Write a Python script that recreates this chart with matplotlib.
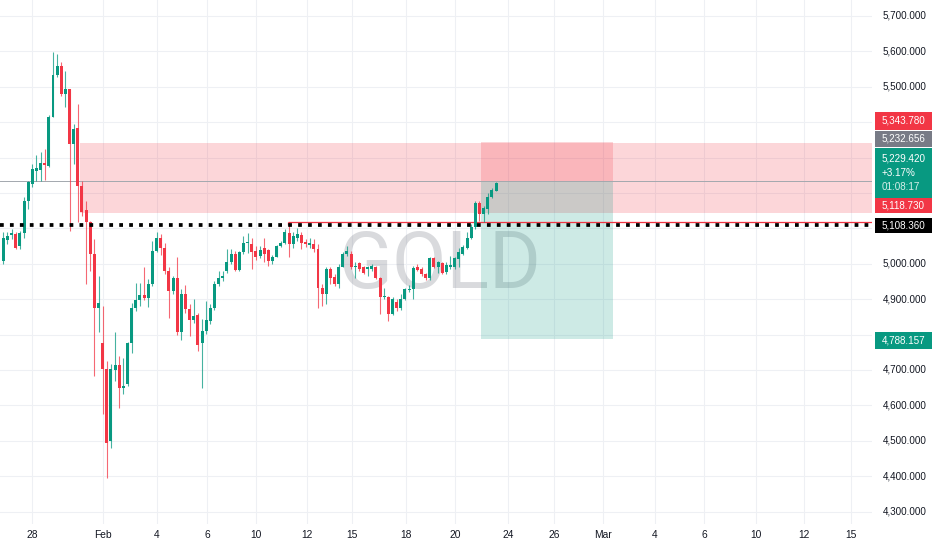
import matplotlib
matplotlib.use("Agg")
import matplotlib.pyplot as plt
from matplotlib.patches import Rectangle
from matplotlib.transforms import blended_transform_factory
import numpy as np

plt.rcParams['font.family'] = ['Liberation Sans', 'DejaVu Sans']

# ---------------- data (4h candles, XAUUSD) ----------------
opens = [5008, 5068, 5082, 5084, 5050, 5086, 5178, 5225, 5263, 5265,
         5284, 5277, 5414, 5532, 5560, 5480, 5494, 5337, 5383, 5221,
         5152, 5117, 5027, 4876, 4777, 4702, 4499, 4699, 4714, 4650,
         4661, 4777, 4875, 4897, 4912, 4902, 4943, 5037, 5073, 5046,
         4980, 4924, 4961, 4806, 4915, 4873, 4841, 4856, 4775, 4810,
         4839, 4876, 4943, 4960, 4980, 5004, 5028, 4982, 5032, 5058,
         5056, 5037, 5022, 5044, 5039, 5008, 5020, 5051, 5060, 5086,
         5056, 5074, 5081, 5062, 5054, 5057, 5042, 4933, 4916, 4985,
         4963, 4944, 4991, 5027, 5029, 4990, 5001, 4991, 4985, 4985,
         4991, 4961, 4905, 4905, 4858, 4893, 4876, 4900, 4926, 4928,
         4990, 4985, 4971, 4961, 5016, 4990, 5001, 4977, 4991, 4990,
         5013, 5029, 5046, 5073, 5105, 5172, 5142, 5155, 5188, 5207]
highs = [5089, 5089, 5098, 5089, 5094, 5188, 5235, 5282, 5306, 5315,
         5325, 5419, 5598, 5593, 5570, 5546, 5494, 5395, 5452, 5235,
         5178, 5122, 5070, 4966, 4881, 4725, 4717, 4806, 4740, 4735,
         4780, 4890, 4947, 4947, 4990, 4957, 5065, 5089, 5085, 5060,
         4990, 4965, 5018, 4930, 4940, 4886, 4900, 4862, 4843, 4895,
         4885, 4950, 4980, 4980, 5042, 5042, 5037, 5037, 5079, 5088,
         5074, 5051, 5050, 5074, 5042, 5025, 5054, 5065, 5098, 5117,
         5089, 5100, 5089, 5070, 5074, 5070, 5056, 4943, 4990, 4990,
         4970, 4999, 5032, 5051, 5037, 5004, 5004, 4995, 4995, 5000,
         4995, 4963, 4933, 4910, 4905, 4900, 4914, 4933, 4940, 4994,
         4999, 4990, 4975, 5020, 5020, 5007, 5004, 5004, 5023, 5020,
         5046, 5054, 5089, 5112, 5176, 5176, 5164, 5200, 5215, 5232]
lows = [5000, 5056, 5070, 5041, 5042, 5074, 5155, 5217, 5235, 5235,
        5237, 5273, 5414, 5527, 5475, 5442, 5093, 5282, 5117, 5136,
        4943, 4980, 4683, 4806, 4575, 4395, 4480, 4669, 4593, 4631,
        4655, 4749, 4867, 4881, 4898, 4878, 4938, 5032, 5024, 4971,
        4848, 4915, 4800, 4785, 4860, 4796, 4834, 4754, 4650, 4801,
        4830, 4869, 4938, 4952, 4975, 5000, 4980, 4980, 5027, 5030,
        4985, 5010, 5015, 5004, 4995, 5000, 5018, 5048, 5056, 5018,
        5046, 5065, 5042, 5048, 5046, 5032, 4876, 4881, 4886, 4944,
        4936, 4931, 4990, 5023, 4985, 4961, 4980, 4970, 4966, 4980,
        4958, 4858, 4900, 4839, 4855, 4867, 4870, 4898, 4920, 4900,
        4980, 4966, 4955, 4955, 4988, 4975, 4971, 4972, 4985, 4985,
        4990, 5025, 5042, 5070, 5098, 5122, 5117, 5142, 5185, 5205]
closes = [5074, 5079, 5086, 5046, 5086, 5178, 5230, 5268, 5270, 5284,
          5280, 5414, 5532, 5560, 5480, 5494, 5337, 5381, 5221, 5145,
          5117, 5027, 4876, 4890, 4702, 4494, 4702, 4714, 4650, 4655,
          4777, 4876, 4897, 4911, 4902, 4943, 5037, 5073, 5046, 4980,
          4924, 4961, 4806, 4916, 4873, 4841, 4853, 4771, 4810, 4841,
          4876, 4943, 4961, 4966, 5004, 5027, 4982, 5032, 5060, 5062,
          5032, 5018, 5040, 5027, 5008, 5020, 5051, 5060, 5089, 5056,
          5079, 5084, 5060, 5056, 5060, 5042, 4933, 4916, 4985, 4961,
          4944, 4991, 5027, 5037, 4990, 4994, 4985, 4973, 4990, 4993,
          4961, 4905, 4910, 4858, 4900, 4876, 4900, 4928, 4930, 4988,
          4982, 4971, 4959, 5016, 4990, 5004, 4975, 4997, 4997, 5016,
          5032, 5048, 5074, 5105, 5173, 5142, 5159, 5190, 5208, 5229.42]

date_tick_pos = [6.9, 24.1, 37.1, 49.2, 61.0, 73.4, 84.2, 97.3, 109.1,
                 121.9, 133.0, 144.9, 157.4, 169.2, 181.8, 193.4, 204.8]
date_tick_labels = ["28", "Feb", "4", "6", "10", "12", "15", "18", "20",
                    "24", "26", "Mar", "4", "6", "10", "12", "15"]
price_ticks = list(range(4300, 5800, 100))
hidden_price_ticks = [5400, 5300, 5200, 5100, 4800]

zone_top, zone_bottom, zone_start = 5340.0, 5144.0, 18.5
stop_price, entry_price, target_price = 5343.780, 5232.656, 4788.157
pos_start, pos_end = 115.4, 147.3
last_price, last_change, countdown = 5229.420, "+3.17%", "01:08:17"
level_red, level_red_start = 5118.730, 68.8
level_black = 5108.360

GREEN = "#089981"
RED = "#f23645"
TXT = "#131722"
FS = 7.1

W, H = 932, 550
fig = plt.figure(figsize=(W / 100, H / 100), dpi=100)
fig.patch.set_facecolor("white")
ax = fig.add_axes([0, 26 / H, 872 / W, 524 / H])
ax.set_xlim(-0.8, 209.8)
ax.set_ylim(4264.9, 5745.2)
for s in ax.spines.values():
    s.set_visible(False)

# grid
ax.set_yticks(price_ticks)
ax.set_xticks(date_tick_pos)
ax.set_xticklabels(date_tick_labels)
ax.grid(True, color="#eef0f4", lw=0.8)
ax.set_axisbelow(True)
ax.tick_params(axis="y", length=0, labelleft=False)
ax.tick_params(axis="x", length=0, pad=4.6, labelsize=7.4, labelcolor=TXT)

# watermark
ax.text(439.5 / W, 1 - 288 / H, "GOLD", transform=fig.transFigure,
        ha="center", va="baseline", fontsize=57, color="#787b86", alpha=0.28,
        family=["Roboto", "Liberation Sans", "DejaVu Sans"], zorder=1)

# supply zone
ax.add_patch(Rectangle((zone_start, zone_bottom), 220 - zone_start, zone_top - zone_bottom,
                       facecolor=RED, alpha=0.2, edgecolor="none", zorder=1.2))
# position tool
ax.add_patch(Rectangle((pos_start, entry_price), pos_end - pos_start, stop_price - entry_price,
                       facecolor=RED, alpha=0.2, edgecolor="none", zorder=1.3))
ax.add_patch(Rectangle((pos_start, target_price), pos_end - pos_start, entry_price - target_price,
                       facecolor=GREEN, alpha=0.2, edgecolor="none", zorder=1.3))

# horizontal lines
ax.axhline(entry_price, color="#a3a8ae", lw=0.7, zorder=2)
ax.hlines(level_red, level_red_start, 220, color=RED, lw=0.9, zorder=2)
ax.vlines(level_red_start, level_black, level_red, color=RED, lw=0.9, zorder=2)

# candles
x = np.arange(len(opens))
o = np.array(opens, float); c = np.array(closes, float)
h = np.array(highs, float); l = np.array(lows, float)
up = c >= o
cols = np.where(up, GREEN, RED)
ax.vlines(x, l, h, colors=cols, lw=0.8, alpha=0.75, zorder=3)
bottoms = np.minimum(o, c)
heights = np.maximum(np.abs(c - o), 3.0)
ax.bar(x, heights, width=0.72, bottom=bottoms, color=cols, edgecolor="none",
       linewidth=0, zorder=3.5)

# dotted level
ax.axhline(level_black, color="black", lw=2.7, linestyle=(0, (1, 1.65)),
           dash_capstyle="butt", zorder=6)

# right price scale labels
btr = blended_transform_factory(fig.transFigure, ax.transData)
for p in price_ticks:
    if p in hidden_price_ticks:
        continue
    ax.text(882.5 / W, p, f"{p:,.3f}", transform=btr, ha="left", va="center",
            fontsize=FS, color=TXT, clip_on=False)


def label_box(y0, y1, color, lines, ys, tcolors=None):
    fig.add_artist(Rectangle((875 / W, 1 - y1 / H), 57 / W, (y1 - y0) / H,
                             transform=fig.transFigure, facecolor=color,
                             edgecolor="none", zorder=5))
    for i, (t, yy) in enumerate(zip(lines, ys)):
        tc = "white" if tcolors is None else tcolors[i]
        fig.text(881.5 / W, 1 - yy / H, t, ha="left", va="center", fontsize=FS,
                 color=tc, zorder=6)


label_box(112, 129.5, RED, [f"{stop_price:,.3f}"], [120.5])
label_box(130.5, 147, "#787b86", [f"{entry_price:,.3f}"], [138.7])
label_box(147.5, 197.5, GREEN, [f"{last_price:,.3f}", last_change, countdown],
          [158.3, 172.7, 187.3], ["white", "white", "#d7efe9"])
label_box(198.5, 213, RED, [f"{level_red:,.3f}"], [205.5])
label_box(217.5, 233, "black", [f"{level_black:,.3f}"], [225.2])
label_box(332, 348.5, GREEN, [f"{target_price:,.3f}"], [340.2])

fig.savefig("out.png", dpi=100, facecolor="white")
